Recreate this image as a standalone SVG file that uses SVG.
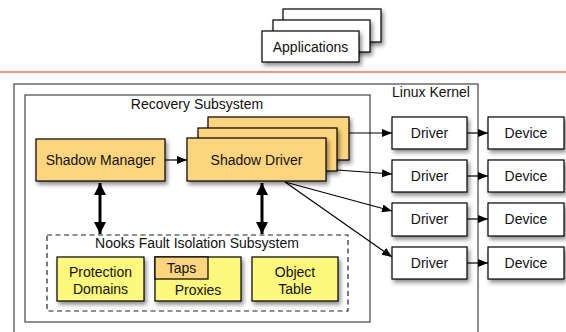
<svg xmlns="http://www.w3.org/2000/svg" width="566" height="332" viewBox="0 0 566 332">
<defs>
<filter id="sh" x="-20%" y="-20%" width="150%" height="160%">
<feDropShadow dx="2" dy="3" stdDeviation="2.2" flood-color="#000" flood-opacity="0.45"/>
</filter>
<marker id="ah" viewBox="0 0 10 8" refX="10" refY="4" markerWidth="10" markerHeight="8" markerUnits="userSpaceOnUse" orient="auto">
<path d="M0,0 L10,4 L0,8 Z" fill="#000"/>
</marker>
<marker id="bh" viewBox="0 0 12 12" refX="12" refY="6" markerWidth="12" markerHeight="12" markerUnits="userSpaceOnUse" orient="auto-start-reverse">
<path d="M0,0 L12,6 L0,12 Z" fill="#000"/>
</marker>
</defs>
<style>
text{font-family:"Liberation Sans",Arial,sans-serif;font-size:14px;fill:#111;text-anchor:middle}
.box{stroke:#000;stroke-width:1.2}
.w{fill:#fff}
.o{fill:#fed57f}
.y{fill:#fef87c}
.cont{fill:none;stroke:#444;stroke-width:1.2}
.c{stroke:#000;stroke-width:1.2;fill:none}
.t{stroke:#000;stroke-width:3;fill:none}
</style>
<rect width="566" height="332" fill="#fff"/>

<g id="applications">
<rect class="box w" x="283" y="9" width="98" height="33" filter="url(#sh)"/>
<rect class="box w" x="273" y="20" width="97" height="32" filter="url(#sh)"/>
<rect class="box w" x="262" y="31" width="97" height="31" filter="url(#sh)"/>
<text x="310.5" y="52">Applications</text>
</g>

<line x1="0" y1="72" x2="566" y2="72" stroke="#f07252" stroke-width="1.6"/>

<g id="linux-kernel">
<rect class="cont" x="14" y="84" width="464" height="260"/>
<text x="431" y="97">Linux Kernel</text>
</g>

<g id="recovery-subsystem">
<rect class="cont" x="25" y="95" width="345" height="227"/>
<text x="197" y="109">Recovery Subsystem</text>
</g>

<g id="shadow-manager">
<rect class="box o" x="36" y="139" width="129" height="42" filter="url(#sh)"/>
<text x="100.5" y="165">Shadow Manager</text>
</g>

<g id="shadow-driver">
<rect class="box o" x="208" y="117" width="141" height="43" filter="url(#sh)"/>
<rect class="box o" x="198" y="128" width="139" height="43" filter="url(#sh)"/>
<rect class="box o" x="187" y="138" width="139" height="43" filter="url(#sh)"/>
<text x="256.5" y="165">Shadow Driver</text>
</g>

<g id="nooks">
<rect x="47" y="235" width="301" height="76" fill="none" stroke="#222" stroke-width="1.2" stroke-dasharray="5,3.5"/>
<text x="197" y="248">Nooks Fault Isolation Subsystem</text>
</g>

<g id="protection-domains">
<rect class="box y" x="57" y="257" width="87" height="44" filter="url(#sh)"/>
<text x="100.5" y="277">Protection</text>
<text x="100.5" y="294">Domains</text>
</g>

<g id="proxies">
<rect class="box y" x="155" y="257" width="86" height="44" filter="url(#sh)"/>
<text x="198" y="295">Proxies</text>
</g>

<g id="taps">
<rect class="box o" x="155" y="257" width="53" height="22"/>
<text x="181.5" y="273">Taps</text>
</g>

<g id="object-table">
<rect class="box y" x="252" y="257" width="86" height="44" filter="url(#sh)"/>
<text x="295" y="277">Object</text>
<text x="295" y="294">Table</text>
</g>

<g id="drivers">
<rect class="box w" x="392" y="117" width="75" height="32" filter="url(#sh)"/>
<text x="429.5" y="138">Driver</text>
<rect class="box w" x="392" y="160" width="75" height="32" filter="url(#sh)"/>
<text x="429.5" y="181">Driver</text>
<rect class="box w" x="392" y="203" width="75" height="33" filter="url(#sh)"/>
<text x="429.5" y="224">Driver</text>
<rect class="box w" x="392" y="247" width="75" height="32" filter="url(#sh)"/>
<text x="429.5" y="268">Driver</text>
</g>

<g id="devices">
<rect class="box w" x="488" y="117" width="76" height="32" filter="url(#sh)"/>
<text x="526" y="138">Device</text>
<rect class="box w" x="488" y="160" width="76" height="32" filter="url(#sh)"/>
<text x="526" y="181">Device</text>
<rect class="box w" x="488" y="203" width="76" height="33" filter="url(#sh)"/>
<text x="526" y="224">Device</text>
<rect class="box w" x="488" y="247" width="76" height="32" filter="url(#sh)"/>
<text x="526" y="268">Device</text>
</g>

<g id="connectors">
<line class="c" x1="165" y1="160" x2="187" y2="160" marker-end="url(#ah)"/>
<line class="c" x1="349" y1="133" x2="392" y2="133" marker-end="url(#ah)"/>
<line class="c" x1="337" y1="170" x2="392" y2="174" marker-end="url(#ah)"/>
<line class="c" x1="285" y1="182" x2="392" y2="211" marker-end="url(#ah)"/>
<line class="c" x1="285" y1="182" x2="392" y2="257" marker-end="url(#ah)"/>
<line class="c" x1="467" y1="133" x2="488" y2="133" marker-end="url(#ah)"/>
<line class="c" x1="467" y1="176" x2="488" y2="176" marker-end="url(#ah)"/>
<line class="c" x1="467" y1="219" x2="488" y2="219" marker-end="url(#ah)"/>
<line class="c" x1="467" y1="263" x2="488" y2="263" marker-end="url(#ah)"/>
<line class="t" x1="100" y1="183" x2="100" y2="234" marker-start="url(#bh)" marker-end="url(#bh)"/>
<line class="t" x1="262" y1="183" x2="262" y2="234" marker-start="url(#bh)" marker-end="url(#bh)"/>
</g>
</svg>
